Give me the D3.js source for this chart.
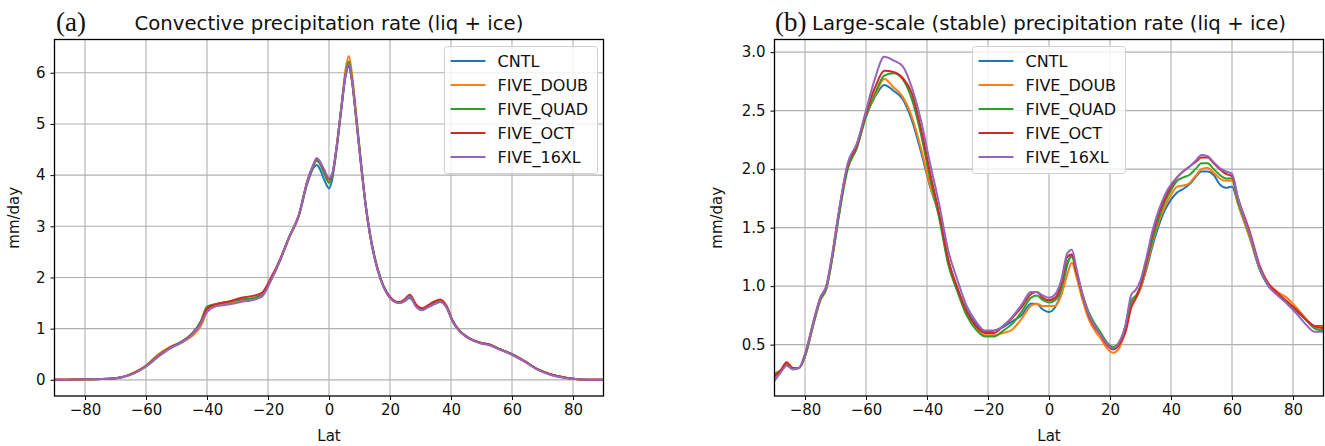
<!DOCTYPE html>
<html>
<head>
<meta charset="utf-8">
<script src="https://cdn.jsdelivr.net/npm/d3@7"></script>
<style>
  body { margin: 0; background: #fff; }
  svg { display: block; font-family: "DejaVu Sans", sans-serif; }
</style>
</head>
<body>
<svg id="fig" width="1325" height="446"></svg>
<script>
// series names and colours
let seriesNames = ["CNTL", "FIVE_DOUB", "FIVE_QUAD", "FIVE_OCT", "FIVE_16XL"]
let seriesColors = ["#1f77b4", "#ff7f0e", "#2ca02c", "#d62728", "#9467bd"]

// (a) convective precipitation, mm/day
let latA = [-90,-80,-72,-68,-64, -60,-56,-52,-48,-45, -42,-40,-37,-33,-29, -25,-22,-19,-16,-13,
  -10,-7,-5,-4,-3, -1.5,0,1,2.5,4, 5.5,6.5,7.5,9,10.5, 12,13.5,15,17,19,
  21,23,24.5,26.5,28.5, 30.5,32.5,34.5,36.5,38.5, 40.5,42.5,44.5,47,50, 53,56,60,64,68, 72,76,80,85,90]
let convCNTL = [0.0,0.01,0.02,0.05,0.13, 0.26,0.45,0.62,0.74,0.88, 1.1,1.38,1.47,1.5,1.55, 1.57,1.63,1.95,2.35,2.8,
  3.18,3.85,4.15,4.2,4.12, 3.9,3.74,3.9,4.5,5.25, 5.95,6.12,5.85,5.05,4.2, 3.4,2.8,2.36,1.95,1.7,
  1.56,1.5,1.53,1.6,1.45, 1.37,1.42,1.48,1.52,1.42, 1.15,0.98,0.87,0.78,0.72, 0.68,0.6,0.5,0.37,0.22, 0.12,0.06,0.02,0.0,0.0]
let convDOUB = [0.0,0.01,0.02,0.05,0.14, 0.28,0.5,0.65,0.74,0.85, 1.05,1.32,1.45,1.5,1.55, 1.58,1.64,1.95,2.33,2.78,
  3.18,3.9,4.2,4.3,4.25, 4.05,3.88,3.98,4.55,5.3, 6.1,6.33,6.0,5.15,4.25, 3.42,2.82,2.37,1.95,1.68,
  1.55,1.5,1.53,1.62,1.45, 1.38,1.43,1.5,1.53,1.42, 1.15,0.97,0.86,0.77,0.71, 0.67,0.59,0.49,0.36,0.22, 0.12,0.06,0.02,0.0,0.0]
let convQUAD = [0.0,0.01,0.02,0.05,0.13, 0.27,0.47,0.63,0.76,0.9, 1.15,1.43,1.48,1.52,1.57, 1.6,1.66,1.97,2.35,2.8,
  3.2,3.9,4.2,4.28,4.22, 4.02,3.85,3.98,4.55,5.3, 6.0,6.22,5.9,5.1,4.25, 3.45,2.85,2.4,1.97,1.7,
  1.55,1.51,1.54,1.62,1.46, 1.38,1.43,1.49,1.53,1.43, 1.16,0.98,0.87,0.78,0.72, 0.68,0.6,0.5,0.37,0.22, 0.12,0.06,0.02,0.0,0.0]
let convOCT = [0.0,0.01,0.02,0.05,0.13, 0.27,0.47,0.63,0.75,0.89, 1.12,1.4,1.48,1.53,1.6, 1.64,1.7,2.0,2.36,2.8,
  3.2,3.9,4.22,4.33,4.26, 4.08,3.92,4.0,4.55,5.3, 5.98,6.15,5.85,5.05,4.2, 3.42,2.82,2.38,1.96,1.7,
  1.56,1.52,1.56,1.66,1.48, 1.4,1.46,1.53,1.57,1.45, 1.16,0.98,0.87,0.78,0.72, 0.68,0.6,0.5,0.37,0.22, 0.12,0.06,0.02,0.0,0.0]
let conv16XL = [0.0,0.01,0.02,0.05,0.12, 0.26,0.46,0.62,0.74,0.88, 1.1,1.33,1.44,1.47,1.52, 1.56,1.63,1.95,2.34,2.8,
  3.2,3.9,4.22,4.33,4.27, 4.1,3.94,4.02,4.55,5.3, 5.98,6.18,5.88,5.05,4.2, 3.42,2.82,2.37,1.95,1.68,
  1.54,1.5,1.53,1.63,1.43, 1.36,1.42,1.48,1.52,1.42, 1.14,0.97,0.86,0.77,0.71, 0.67,0.59,0.49,0.36,0.21, 0.11,0.05,0.02,0.0,0.0]

// (b) large-scale precipitation, mm/day
let latB = [-90,-88,-86,-84,-82,-80, -77,-75,-73,-71,-69, -66,-63,-60,-57,-54, -51,-48,-45,-42,-39,
  -36,-33,-30,-27,-24, -21,-18,-15,-12,-9, -6,-4,-2,0,2, 4,6,7.5,9,11, 13,15,17,19,21,
  23,25,27,28.5,30, 32,34,36,38,40, 42,44,46,48,50, 52,54,56,58,60, 62,64,66,69,72, 75,78,81,84,87, 90]
let lsCNTL = [0.24,0.27,0.33,0.3,0.3,0.4, 0.7,0.88,0.98,1.25,1.59, 2.03,2.2,2.45,2.62,2.72, 2.67,2.6,2.42,2.15,1.85,
  1.6,1.22,0.98,0.8,0.68, 0.61,0.62,0.65,0.7,0.75, 0.85,0.85,0.8,0.78,0.82, 0.95,1.18,1.27,1.1,0.9,
  0.75,0.65,0.58,0.5,0.46, 0.5,0.65,0.85,0.9,0.98, 1.15,1.35,1.52,1.65,1.74, 1.8,1.83,1.87,1.93,1.98,
  1.98,1.95,1.87,1.84,1.85, 1.7,1.55,1.4,1.15,1.0, 0.93,0.86,0.79,0.72,0.66, 0.66]
let lsDOUB = [0.22,0.27,0.34,0.3,0.3,0.4, 0.7,0.88,0.98,1.25,1.6, 2.03,2.2,2.45,2.63,2.77, 2.7,2.62,2.45,2.18,1.86,
  1.6,1.22,0.98,0.78,0.65, 0.58,0.58,0.6,0.63,0.72, 0.83,0.85,0.83,0.83,0.83, 0.92,1.1,1.2,1.08,0.88,
  0.72,0.62,0.55,0.47,0.43, 0.47,0.62,0.83,0.9,0.98, 1.17,1.38,1.55,1.68,1.78, 1.85,1.86,1.88,1.94,2.0,
  2.01,1.97,1.92,1.9,1.9, 1.7,1.55,1.4,1.15,1.02, 0.95,0.9,0.82,0.73,0.65, 0.65]
let lsQUAD = [0.25,0.28,0.33,0.29,0.3,0.4, 0.7,0.88,0.98,1.25,1.58, 2.0,2.18,2.45,2.65,2.8, 2.82,2.77,2.6,2.3,1.92,
  1.58,1.18,0.95,0.75,0.63, 0.57,0.57,0.62,0.68,0.78, 0.9,0.92,0.88,0.86,0.88, 0.98,1.2,1.25,1.12,0.93,
  0.78,0.68,0.6,0.52,0.48, 0.52,0.65,0.88,0.92,1.0, 1.2,1.4,1.58,1.72,1.82, 1.9,1.93,1.95,2.0,2.05,
  2.05,2.0,1.95,1.92,1.92, 1.72,1.57,1.42,1.15,1.0, 0.93,0.86,0.8,0.72,0.64, 0.62]
let lsOCT = [0.23,0.28,0.35,0.3,0.3,0.42, 0.72,0.9,1.0,1.28,1.62, 2.03,2.2,2.48,2.7,2.84, 2.83,2.78,2.65,2.35,1.97,
  1.62,1.22,0.98,0.78,0.66, 0.6,0.6,0.66,0.73,0.82, 0.93,0.95,0.9,0.88,0.9, 1.02,1.25,1.27,1.12,0.92,
  0.75,0.65,0.58,0.5,0.46, 0.5,0.6,0.82,0.9,1.0, 1.22,1.45,1.62,1.75,1.85, 1.93,1.98,2.02,2.06,2.1,
  2.1,2.05,2.0,1.96,1.94, 1.75,1.6,1.45,1.18,1.02, 0.94,0.87,0.8,0.72,0.66, 0.64]
let ls16XL = [0.19,0.26,0.32,0.29,0.3,0.42, 0.72,0.9,1.0,1.28,1.62, 2.05,2.22,2.5,2.78,2.96, 2.93,2.88,2.7,2.42,2.05,
  1.7,1.3,1.05,0.83,0.7, 0.62,0.62,0.66,0.74,0.84, 0.95,0.95,0.92,0.9,0.93, 1.05,1.28,1.31,1.15,0.93,
  0.76,0.66,0.58,0.51,0.47, 0.52,0.66,0.93,0.97,1.05, 1.25,1.48,1.65,1.78,1.87, 1.93,1.98,2.02,2.07,2.12,
  2.11,2.06,2.01,1.98,1.96, 1.75,1.58,1.43,1.16,1.0, 0.92,0.85,0.77,0.68,0.61, 0.61]

let xTicks = [-80, -60, -40, -20, 0, 20, 40, 60, 80]
let yTicksA = [0, 1, 2, 3, 4, 5, 6]
let yTicksB = [0.5, 1.0, 1.5, 2.0, 2.5, 3.0]

let svg = d3.select("#fig")

function drawPanel(p) {
    let g = svg.append("g")
    let x = d3.scaleLinear().domain([-90, 90]).range([p.left, p.right])
    let y = d3.scaleLinear().domain(p.yDomain).range([p.bottom, p.top])

    // grid
    g.append("g").selectAll("line").data(xTicks).join("line")
        .attr("x1", d => x(d)).attr("x2", d => x(d))
        .attr("y1", p.top).attr("y2", p.bottom)
        .attr("stroke", "#b0b0b0").attr("stroke-width", 1.1)
    g.append("g").selectAll("line").data(p.yTicks).join("line")
        .attr("x1", p.left).attr("x2", p.right)
        .attr("y1", d => y(d)).attr("y2", d => y(d))
        .attr("stroke", "#b0b0b0").attr("stroke-width", 1.1)

    // clip + lines
    let clipId = "clip" + p.id
    svg.append("clipPath").attr("id", clipId).append("rect")
        .attr("x", p.left).attr("y", p.top)
        .attr("width", p.right - p.left).attr("height", p.bottom - p.top)

    let line = d3.line().x(d => x(d[0])).y(d => y(d[1])).curve(d3.curveMonotoneX)
    let lg = g.append("g").attr("clip-path", "url(#" + clipId + ")")
    p.series.forEach((vals, i) => {
        lg.append("path")
            .datum(p.lats.map((la, j) => [la, vals[j]]))
            .attr("d", line)
            .attr("fill", "none")
            .attr("stroke", seriesColors[i])
            .attr("stroke-width", 2)
            .attr("stroke-linejoin", "round")
    })

    // axes
    let xAxis = g.append("g")
        .attr("transform", "translate(0," + p.bottom + ")")
        .call(d3.axisBottom(x).tickValues(xTicks).tickSize(4).tickPadding(4).tickFormat(d3.format("d")))
    let yAxis = g.append("g")
        .attr("transform", "translate(" + p.left + ",0)")
        .call(d3.axisLeft(y).tickValues(p.yTicks).tickSize(4).tickPadding(5).tickFormat(d3.format(p.yFmt)))
    ;[xAxis, yAxis].forEach(a => {
        a.select(".domain").remove()
        a.selectAll("line").attr("stroke", "#000").attr("stroke-width", 1)
        a.selectAll("text").attr("font-size", 15).attr("fill", "#111")
            .attr("font-family", "DejaVu Sans")
    })

    // frame
    g.append("rect")
        .attr("x", p.left).attr("y", p.top)
        .attr("width", p.right - p.left).attr("height", p.bottom - p.top)
        .attr("fill", "none").attr("stroke", "#000").attr("stroke-width", 1.3)

    // labels
    g.append("text")
        .attr("x", (p.left + p.right) / 2).attr("y", 441)
        .attr("text-anchor", "middle").attr("font-size", 15).attr("fill", "#111")
        .text("Lat")
    g.append("text")
        .attr("transform", "translate(" + p.yLabelX + "," + ((p.top + p.bottom) / 2) + ") rotate(-90)")
        .attr("text-anchor", "middle").attr("font-size", 15).attr("fill", "#111")
        .text("mm/day")

    // title, centred on the axes
    g.append("text")
        .attr("x", (p.left + p.right) / 2).attr("y", 29.5)
        .attr("text-anchor", "middle").attr("font-size", 19.7).attr("fill", "#111")
        .text(p.title)
    g.append("text")
        .attr("x", p.tagX).attr("y", 31)
        .attr("font-family", "Liberation Serif, DejaVu Serif, serif")
        .attr("font-size", 27).attr("fill", "#111")
        .text(p.tag)

    // legend
    let leg = g.append("g").attr("transform", "translate(" + p.legX + "," + p.legY + ")")
    leg.append("rect")
        .attr("width", 153).attr("height", 127).attr("rx", 3)
        .attr("fill", "#fff").attr("fill-opacity", 0.8)
        .attr("stroke", "#d0d0d0").attr("stroke-width", 1)
    seriesNames.forEach((name, i) => {
        let yy = 14.5 + i * 24
        leg.append("line")
            .attr("x1", 6).attr("x2", 41).attr("y1", yy).attr("y2", yy)
            .attr("stroke", seriesColors[i]).attr("stroke-width", 2)
        leg.append("text")
            .attr("x", 53).attr("y", yy).attr("dy", "0.35em")
            .attr("font-size", 16).attr("fill", "#111")
            .text(name)
    })
}

drawPanel({
    id: "a", left: 54.5, right: 603.5, top: 39.5, bottom: 396,
    yDomain: [-0.316, 6.65], yTicks: yTicksA, yFmt: "d",
    lats: latA, series: [convCNTL, convDOUB, convQUAD, convOCT, conv16XL],
    title: "Convective precipitation rate (liq + ice)", tag: "(a)", tagX: 56,
    yLabelX: 18.5, legX: 444.5, legY: 46.5
})
drawPanel({
    id: "b", left: 774.5, right: 1323.5, top: 39.5, bottom: 396,
    yDomain: [0.061, 3.108], yTicks: yTicksB, yFmt: ".1f",
    lats: latB, series: [lsCNTL, lsDOUB, lsQUAD, lsOCT, ls16XL],
    title: "Large-scale (stable) precipitation rate (liq + ice)", tag: "(b)", tagX: 775,
    yLabelX: 722, legX: 972.5, legY: 46.5
})
</script>
</body>
</html>
